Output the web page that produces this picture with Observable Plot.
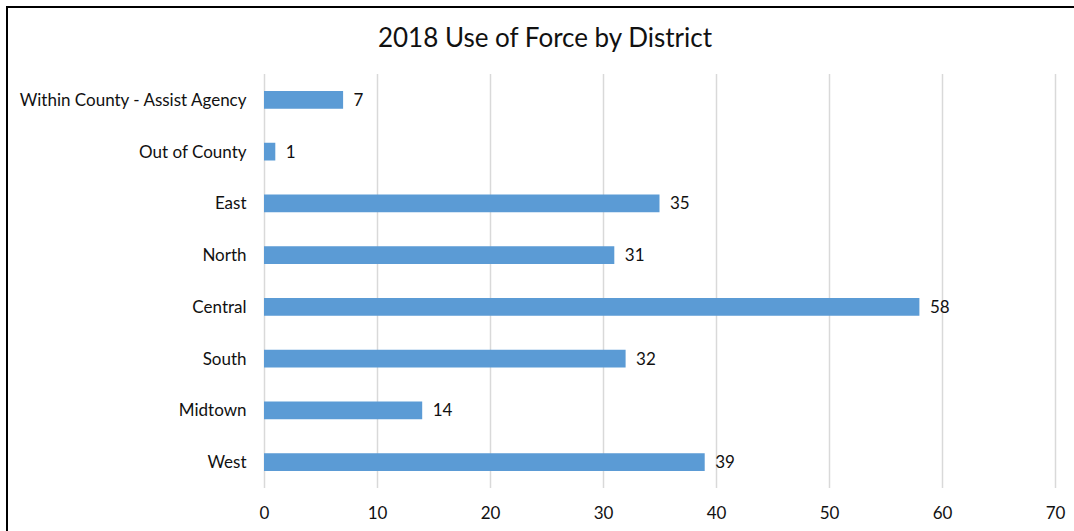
<!DOCTYPE html>
<html>
<head>
<meta charset="utf-8">
<script src="https://cdn.jsdelivr.net/npm/d3@7"></script>
<script src="https://cdn.jsdelivr.net/npm/@observablehq/plot@0.6"></script>
<style>
  html, body { margin: 0; padding: 0; background: #fff; }
  #wrap { position: relative; width: 1074px; height: 531px; overflow: hidden; font-family: Lato, "Open Sans", sans-serif; }
  #frame { position: absolute; left: 6px; top: 6px; width: 1074px; height: 540px; border-left: 2px solid #000; border-top: 2px solid #000; box-sizing: border-box; }
  #title { position: absolute; left: 0; width: 1090px; top: 21px; text-align: center; font-size: 26px; color: #111; }
  #chart { position: absolute; left: 0; top: 0; }
</style>
</head>
<body>
<div id="wrap">
  <div id="chart"></div>
  <div id="frame"></div>
  <div id="title">2018 Use of Force by District</div>
</div>
<script>
const districts = ["Within County - Assist Agency", "Out of County", "East", "North", "Central", "South", "Midtown", "West"];
const counts = [7, 1, 35, 31, 58, 32, 14, 39];
const xTicks = [0, 10, 20, 30, 40, 50, 60, 70];

const data = districts.map((d, i) => ({district: d, count: counts[i]}));

const chart = Plot.plot({
  width: 1074,
  height: 531,
  marginLeft: 264,
  marginRight: 19,
  marginTop: 74,
  marginBottom: 43,
  style: {fontFamily: "Lato, 'Open Sans', sans-serif", fontSize: "17px", color: "#111", background: "transparent"},
  x: {domain: [0, 70], ticks: xTicks, label: null, tickSize: 0, tickPadding: 0},
  y: {domain: districts, label: null, padding: 0, round: false, tickSize: 0, tickPadding: 18},
  marks: [
    Plot.gridX(xTicks, {stroke: "#d9d9d9", strokeOpacity: 1, strokeWidth: 1.5}),
    Plot.barX(data, {x: "count", y: "district", fill: "#5b9bd5", insetTop: 17, insetBottom: 17}),
    Plot.text(data, {x: "count", y: "district", text: d => String(d.count), textAnchor: "start", dx: 10, fontSize: 17, fill: "#111"}),
    Plot.axisX(xTicks, {tickSize: 0, tickPadding: 0, dy: 18, fontSize: 17, fill: "#111", label: null}),
    Plot.axisY({tickSize: 0, tickPadding: 18, fontSize: 17, fill: "#111", label: null})
  ]
});
document.getElementById("chart").appendChild(chart);
</script>
</body>
</html>
